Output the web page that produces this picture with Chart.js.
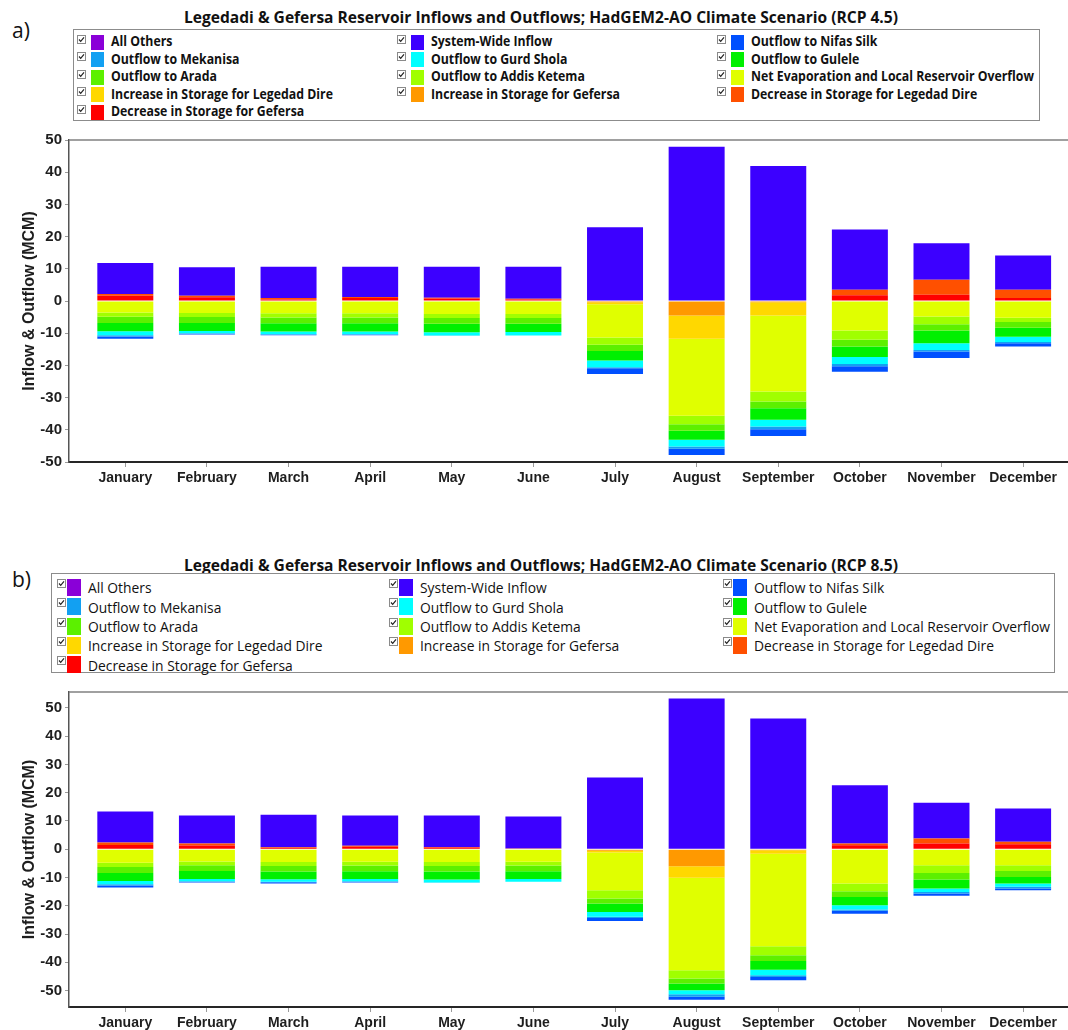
<!DOCTYPE html>
<html>
<head>
<meta charset="utf-8">
<script src="https://cdn.jsdelivr.net/npm/chart.js@4.4.1/dist/chart.umd.min.js"></script>
<style>
  html, body { margin: 0; padding: 0; background: #fff; }
  #page { position: relative; width: 1068px; height: 1030px; overflow: hidden; background: #fff; color: #111; font-family: 'Open Sans', sans-serif; }
  .tag { position: absolute; font-family: 'Open Sans', sans-serif; font-size: 21px; line-height: 1; color: #111; }
  .title { position: absolute; left: 184px; white-space: nowrap; font-weight: 700; font-size: 16px; line-height: 1; transform-origin: 0 50%; color: #111; }
  .legend { position: absolute; border: 1px solid #8c8c8c; box-sizing: border-box; background: #fff; }
  .cb, .sw, .txt { position: absolute; }
  .txt { white-space: nowrap; line-height: 1; transform-origin: 0 50%; color: #111; }
  canvas { position: absolute; left: 0; }
</style>
</head>
<body>
<div id="page">
  <div class="tag" style="left:12px;top:20px;">a)</div>
  <div class="title" id="titleA" style="top:17px;">Legedadi &amp; Gefersa Reservoir Inflows and Outflows; HadGEM2-AO Climate Scenario (RCP 4.5)</div>
  <div class="legend" id="legA" style="left:73px;top:29px;width:967px;height:92px;"></div>
  <canvas id="chartA" width="1068" height="372" style="top:128px;"></canvas>

  <div class="tag" style="left:12px;top:569px;">b)</div>
  <div class="title" id="titleB" style="top:565px;">Legedadi &amp; Gefersa Reservoir Inflows and Outflows; HadGEM2-AO Climate Scenario (RCP 8.5)</div>
  <div class="legend" id="legB" style="left:51px;top:573px;width:1004px;height:100px;"></div>
  <canvas id="chartB" width="1068" height="350" style="top:680px;"></canvas>
</div>

<script>
// Months on the category axis
const months = ['January', 'February', 'March', 'April', 'May', 'June',
                'July', 'August', 'September', 'October', 'November', 'December'];

// Y axis tick labels (MCM)
const yTicks = [-50, -40, -30, -20, -10, 0, 10, 20, 30, 40, 50];

// Series names and colours, in legend order
const seriesNames = [
  'All Others', 'System-Wide Inflow', 'Outflow to Nifas Silk',
  'Outflow to Mekanisa', 'Outflow to Gurd Shola', 'Outflow to Gulele',
  'Outflow to Arada', 'Outflow to Addis Ketema', 'Net Evaporation and Local Reservoir Overflow',
  'Increase in Storage for Legedad Dire', 'Increase in Storage for Gefersa', 'Decrease in Storage for Legedad Dire',
  'Decrease in Storage for Gefersa'
];
const seriesColors = [
  '#8a00d8', '#3c00ff', '#0050ff',
  '#12a0f2', '#00ffff', '#00f000',
  '#5cf000', '#a0ff00', '#e0ff00',
  '#ffd800', '#ff9900', '#ff5000',
  '#ff0000'
];

// RCP 4.5 monthly values (MCM); outflows and storage increases are negative
const allOthers45  = [0, 0, 0, 0, 0, 0, 0, 0, 0, 0, 0, 0];
const sysInflow45  = [9.6, 8.8, 9.75, 9.4, 9.65, 9.95, 22.9, 47.9, 41.9, 18.7, 11.3, 10.6];
const nifasSilk45  = [-0.7, -0.2, -0.2, -0.2, 0, 0, -1.8, -1.9, -2.1, -1.7, -2.0, -0.95];
const mekanisa45   = [-0.4, -0.2, -0.1, -0.1, -0.1, 0, -0.3, -0.7, -0.8, -0.7, -0.5, -0.45];
const gurdShola45  = [-1.2, -0.7, -0.8, -0.8, -1.0, -1.1, -2.1, -2.1, -2.1, -2.2, -2.1, -1.6];
const gulele45     = [-2.6, -2.5, -2.6, -2.6, -2.6, -2.5, -3.0, -2.8, -3.6, -3.3, -3.9, -2.8];
const arada45      = [-1.9, -1.8, -1.8, -1.8, -1.8, -1.8, -1.9, -2.0, -2.1, -2.1, -2.0, -1.8];
const addisKetema45= [-1.3, -1.3, -1.3, -1.3, -1.3, -1.3, -2.3, -2.7, -3.1, -2.8, -2.4, -1.3];
const netEvap45    = [-3.6, -3.7, -3.8, -3.8, -4.0, -4.0, -10.3, -23.9, -23.6, -9.2, -4.8, -5.2];
const incLegedad45 = [0, 0, 0, 0, 0, 0, -0.6, -7.2, -4.1, 0, 0, 0];
const incGefersa45 = [0, 0, 0, 0, 0, 0, -0.4, -4.5, -0.4, 0, 0, 0];
const decLegedad45 = [0.55, 0.45, 0.4, 0.3, 0.2, 0.2, 0, 0, 0, 1.75, 4.65, 2.6];
const decGefersa45 = [1.65, 1.2, 0.5, 0.95, 0.8, 0.5, 0, 0, 0, 1.75, 1.95, 0.9];

// RCP 8.5 monthly values (MCM)
const allOthers85  = [0, 0, 0, 0, 0, 0, 0, 0, 0, 0, 0, 0];
const sysInflow85  = [10.95, 9.9, 11.5, 10.7, 11.1, 11.3, 25.4, 53.3, 46.2, 20.6, 12.6, 11.8];
const nifasSilk85  = [-0.7, -0.3, -0.4, -0.3, 0, 0, -1.1, -1.0, -1.1, -1.0, -0.8, -0.6];
const mekanisa85   = [-0.4, -0.2, -0.2, -0.2, -0.1, 0, -0.4, -0.9, -0.6, -0.5, -0.6, -0.6];
const gurdShola85  = [-1.2, -0.8, -0.9, -0.8, -1.1, -1.0, -1.7, -1.4, -2.0, -1.5, -1.2, -1.2];
const gulele85     = [-2.8, -2.8, -2.7, -2.7, -2.8, -2.7, -3.0, -2.4, -3.1, -2.9, -3.2, -2.3];
const arada85      = [-2.1, -2.0, -2.0, -2.0, -2.0, -2.0, -1.8, -1.8, -2.0, -2.0, -2.3, -2.1];
const addisKetema85= [-1.5, -1.4, -1.4, -1.4, -1.4, -1.4, -2.9, -2.9, -3.2, -2.8, -2.7, -2.0];
const netEvap85    = [-4.8, -4.3, -4.5, -4.4, -4.5, -4.4, -13.3, -32.7, -32.7, -12.1, -5.7, -5.7];
const incLegedad85 = [0, 0, 0, 0, 0, 0, -0.7, -4.1, -1.2, 0, 0, 0];
const incGefersa85 = [0, 0, 0, 0, 0, 0, -0.5, -6.0, -0.4, 0, 0, 0];
const decLegedad85 = [0.85, 0.7, 0.3, 0.3, 0.2, 0.1, 0, 0, 0, 0.6, 1.8, 0.8];
const decGefersa85 = [1.5, 1.3, 0.4, 0.9, 0.6, 0.15, 0, 0, 0, 1.4, 2.0, 1.8];

// Series arrays per scenario, in legend order
const values45 = [allOthers45, sysInflow45, nifasSilk45, mekanisa45, gurdShola45, gulele45,
                  arada45, addisKetema45, netEvap45, incLegedad45, incGefersa45, decLegedad45, decGefersa45];
const values85 = [allOthers85, sysInflow85, nifasSilk85, mekanisa85, gurdShola85, gulele85,
                  arada85, addisKetema85, netEvap85, incLegedad85, incGefersa85, decLegedad85, decGefersa85];

// ---- Legend (checkbox + swatch + label, three columns) ----
const CHECK_SVG = '<svg width="9" height="9" viewBox="0 0 9 9"><rect x="0.5" y="0.5" width="8" height="8" fill="#fff" stroke="#8a8a8a"/><polyline points="2,4.5 3.7,6.3 7,2.4" fill="none" stroke="#222" stroke-width="1.2"/></svg>';

function buildLegend(el, cfg) {
  const texts = [];
  seriesNames.forEach((name, i) => {
    const col = i % 3, row = Math.floor(i / 3);
    const x = cfg.cols[col], yc = cfg.rows[row];
    const cb = document.createElement('div');
    cb.className = 'cb';
    cb.innerHTML = CHECK_SVG;
    cb.style.left = x + 'px';
    cb.style.top = (yc - cfg.swH / 2) + 'px';
    cb.style.lineHeight = '0';
    el.appendChild(cb);
    const sw = document.createElement('div');
    sw.className = 'sw';
    sw.style.left = (x + cfg.swDx) + 'px';
    sw.style.top = (yc - cfg.swH / 2) + 'px';
    sw.style.width = cfg.swW + 'px';
    sw.style.height = cfg.swH + 'px';
    sw.style.background = seriesColors[i];
    el.appendChild(sw);
    const t = document.createElement('div');
    t.className = 'txt';
    t.textContent = name;
    t.style.left = (x + cfg.txtDx) + 'px';
    t.style.top = yc + 'px';
    t.style.fontSize = cfg.fontSize + 'px';
    t.style.fontWeight = cfg.weight;
    el.appendChild(t);
    texts.push(t);
  });
  // Condense the labels so the longest one spans the column width
  const ref = texts[8].getBoundingClientRect().width;
  const k = cfg.longest / ref;
  texts.forEach(t => { t.style.transform = 'translateY(-50%) scaleX(' + k + ')'; });
}

buildLegend(document.getElementById('legA'), {
  cols: [3, 323, 643], rows: [12, 29.5, 47, 64.5, 82],
  swDx: 14, swW: 13, swH: 15, txtDx: 34, fontSize: 13.5, weight: 700, longest: 283
});
buildLegend(document.getElementById('legB'), {
  cols: [5, 337, 671], rows: [13, 32.5, 52, 71.3, 90.5],
  swDx: 10, swW: 14, swH: 17, txtDx: 31, fontSize: 15, weight: 400, longest: 296
});

function fitTitle(id, width) {
  const el = document.getElementById(id);
  const w = el.getBoundingClientRect().width;
  el.style.transform = 'translateY(-50%) scaleX(' + (width / w) + ')';
}
fitTitle('titleA', 714);
fitTitle('titleB', 714);

// ---- Charts ----
const topFrame = {
  id: 'topFrame',
  afterDraw(chart) {
    const { ctx, chartArea: a } = chart;
    ctx.save();
    ctx.strokeStyle = '#808080';
    ctx.lineWidth = 1.5;
    ctx.beginPath();
    ctx.moveTo(a.left, a.top);
    ctx.lineTo(a.right, a.top);
    ctx.stroke();
    ctx.restore();
  }
};

function buildDatasets(values) {
  // Reverse legend order so stacks grow outward from zero in the drawn order
  const out = [];
  for (let i = seriesNames.length - 1; i >= 0; i--) {
    out.push({
      label: seriesNames[i],
      data: values[i].map((v, m) => ({ x: m, y: v })),
      backgroundColor: seriesColors[i],
      borderWidth: 0,
      barPercentage: 0.686,
      categoryPercentage: 1.0
    });
  }
  return out;
}

function makeChart(id, values, yMin, yMax, padTop, xHeight) {
  return new Chart(document.getElementById(id), {
    type: 'bar',
    data: { datasets: buildDatasets(values) },
    options: {
      responsive: false,
      animation: false,
      events: [],
      layout: { padding: { left: 0, right: 0, top: padTop, bottom: 0 } },
      plugins: { legend: { display: false }, tooltip: { enabled: false } },
      scales: {
        x: {
          type: 'linear',
          offset: false,
          stacked: true,
          min: -0.69,
          max: 11.55,
          afterBuildTicks(s) { s.ticks = months.map((m, i) => ({ value: i })); },
          afterFit(s) { s.height = xHeight; },
          ticks: {
            callback: (v) => months[v],
            autoSkip: false,
            maxRotation: 0,
            padding: 3,
            color: '#1e1e1e',
            font: { family: 'Liberation Sans', weight: 'bold', size: 14 }
          },
          grid: { offset: false, drawOnChartArea: false, drawTicks: true, tickLength: 5, color: '#9a9a9a' },
          border: { display: true, color: '#262626', width: 2 }
        },
        y: {
          stacked: true,
          min: yMin,
          max: yMax,
          afterBuildTicks(s) { s.ticks = yTicks.map(v => ({ value: v })); },
          afterFit(s) { s.width = 69; },
          ticks: {
            padding: 3,
            color: '#1e1e1e',
            font: { family: 'Liberation Sans', weight: 'bold', size: 15 }
          },
          grid: { drawOnChartArea: false, drawTicks: true, tickLength: 4, color: '#9a9a9a' },
          border: { display: true, color: '#555555', width: 1.5 },
          title: {
            display: true,
            text: 'Inflow & Outflow (MCM)',
            color: '#1e1e1e',
            padding: { top: 20, bottom: 0 },
            font: { family: 'Liberation Sans', weight: 'bold', size: 16 }
          }
        }
      }
    },
    plugins: [topFrame]
  });
}

makeChart('chartA', values45, -50, 50, 12, 38);
makeChart('chartB', values85, -55.8, 55.6, 12, 23);
</script>
</body>
</html>
